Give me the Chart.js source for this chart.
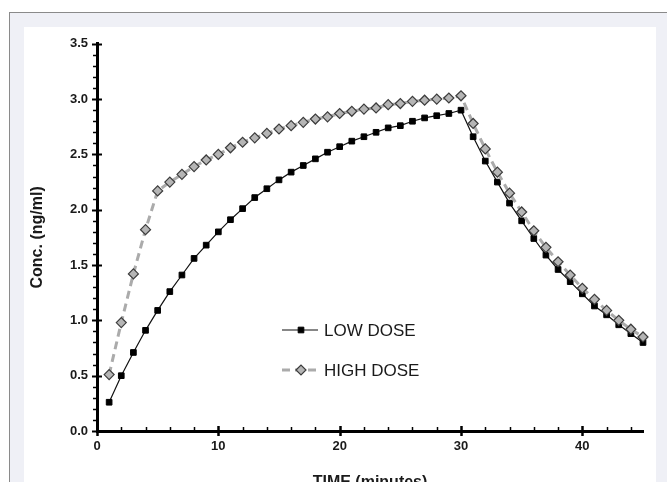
<!DOCTYPE html>
<html>
<head>
<meta charset="utf-8">
<title>Concentration vs time</title>
<script src="https://cdn.jsdelivr.net/npm/chart.js@4/dist/chart.umd.min.js"></script>
<style>
  html, body { margin: 0; padding: 0; background: #fff; overflow: hidden; }
  #frame {
    position: absolute; left: 9px; top: 12px; width: 700px; height: 500px;
    background: #eff0f6; border-top: 1px solid #8a8a8a; border-left: 1px solid #8a8a8a;
  }
  #panel {
    position: absolute; left: 24px; top: 27px; width: 632px; height: 470px;
    background: #fff;
  }
  #chart { display: block; }
</style>
</head>
<body>
<div id="frame"></div>
<div id="panel"><canvas id="chart" width="632" height="465"></canvas></div>
<script>
// sampling times (minutes)
const times = [1, 2, 3, 4, 5, 6, 7, 8, 9, 10, 11, 12, 13, 14, 15, 16, 17, 18, 19, 20, 21, 22,
  23, 24, 25, 26, 27, 28, 29, 30, 31, 32, 33, 34, 35, 36, 37, 38, 39, 40, 41, 42, 43, 44, 45];

// concentrations (ng/ml)
const lowDose = [0.26, 0.50, 0.71, 0.91, 1.09, 1.26, 1.41, 1.56, 1.68, 1.80, 1.91, 2.01, 2.11,
  2.19, 2.27, 2.34, 2.40, 2.46, 2.52, 2.57, 2.62, 2.66, 2.70, 2.74, 2.76, 2.80, 2.83, 2.85, 2.87,
  2.90, 2.66, 2.44, 2.25, 2.06, 1.90, 1.74, 1.59, 1.46, 1.35, 1.24, 1.13, 1.05, 0.96, 0.88, 0.80];

const highDose = [0.51, 0.98, 1.42, 1.82, 2.17, 2.25, 2.32, 2.39, 2.45, 2.50, 2.56, 2.61, 2.65,
  2.69, 2.73, 2.76, 2.79, 2.82, 2.84, 2.87, 2.89, 2.91, 2.92, 2.95, 2.96, 2.98, 2.99, 3.00, 3.01,
  3.03, 2.78, 2.55, 2.34, 2.15, 1.98, 1.81, 1.66, 1.53, 1.41, 1.29, 1.19, 1.09, 1.00, 0.92, 0.85];

const seriesNames = ["LOW DOSE", "HIGH DOSE"];

// axis ranges and tick steps
const xRange = [0, 45];
const yRange = [0, 3.5];
const xMajorStep = 10, xMinorStep = 2;
const yMajorStep = 0.5, yMinorStep = 0.1;

const FONT = "'Liberation Sans', Arial, sans-serif";
const INK = "#1a1a1a";

const toPoints = (ys) => ys.map((y, i) => ({ x: times[i], y: y }));

// crossing major ticks and small minor ticks on both axes
const axisTicks = {
  id: "axisTicks",
  afterDraw(chart) {
    const { ctx, scales: { x, y } } = chart;
    const ax = x.getPixelForValue(xRange[0]);
    const ay = y.getPixelForValue(yRange[0]);
    ctx.save();
    ctx.strokeStyle = "#000";
    ctx.lineCap = "butt";

    for (let v = yRange[0]; v <= yRange[1] + 1e-9; v += yMinorStep) {
      const py = Math.round(y.getPixelForValue(v)) + 0.5;
      const major = Math.abs(v / yMajorStep - Math.round(v / yMajorStep)) < 1e-6;
      ctx.lineWidth = major ? 2 : 1.5;
      ctx.beginPath();
      ctx.moveTo(ax - (major ? 5 : 4), py);
      ctx.lineTo(ax + (major ? 5 : 1), py);
      ctx.stroke();
    }
    for (let v = xRange[0]; v <= xRange[1] + 1e-9; v += xMinorStep) {
      const px = Math.round(x.getPixelForValue(v)) + 0.5;
      const major = v % xMajorStep === 0;
      ctx.lineWidth = major ? 2.5 : 1.5;
      ctx.beginPath();
      ctx.moveTo(px, ay - (major ? 5 : 4));
      ctx.lineTo(px, ay + (major ? 5 : 0));
      ctx.stroke();
    }
    ctx.restore();
  }
};

// legend inside the plot, line sample with marker
const innerLegend = {
  id: "innerLegend",
  afterDraw(chart) {
    const { ctx } = chart;
    const left = 258, rows = [303, 343];
    chart.data.datasets.forEach((ds, i) => {
      const yy = rows[i];
      ctx.save();
      ctx.strokeStyle = ds.borderColor;
      ctx.lineWidth = ds.borderWidth;
      ctx.setLineDash(ds.borderDash || []);
      ctx.beginPath();
      ctx.moveTo(left, yy);
      ctx.lineTo(left + 36, yy);
      ctx.stroke();
      ctx.setLineDash([]);
      ctx.fillStyle = ds.pointBackgroundColor;
      ctx.strokeStyle = ds.pointBorderColor;
      ctx.lineWidth = ds.pointBorderWidth;
      Chart.helpers.drawPoint(ctx, {
        pointStyle: ds.pointStyle,
        radius: ds.pointRadius,
        rotation: 0,
        borderWidth: ds.pointBorderWidth
      }, left + 19, yy);
      ctx.fillStyle = INK;
      ctx.font = "17px " + FONT;
      ctx.textBaseline = "middle";
      ctx.fillText(ds.label, left + 42, yy + 1);
      ctx.restore();
    });
  }
};

const ctx = document.getElementById("chart").getContext("2d");

new Chart(ctx, {
  type: "line",
  data: {
    datasets: [
      {
        label: seriesNames[0],
        data: toPoints(lowDose),
        borderColor: "#111",
        borderWidth: 1.2,
        pointStyle: "rect",
        pointRadius: 4,
        pointBackgroundColor: "#000",
        pointBorderColor: "#000",
        pointBorderWidth: 1,
        clip: false,
        order: 1
      },
      {
        label: seriesNames[1],
        data: toPoints(highDose),
        borderColor: "#ababab",
        borderWidth: 3,
        borderDash: [8, 5],
        pointStyle: "rectRot",
        pointRadius: 5,
        pointBackgroundColor: "#b5b5b5",
        pointBorderColor: "#3c3c3c",
        pointBorderWidth: 1.2,
        clip: false,
        order: 0
      }
    ]
  },
  options: {
    responsive: false,
    animation: false,
    devicePixelRatio: 1,
    layout: { padding: { top: 11, right: 13, left: 0, bottom: 0 } },
    plugins: {
      legend: { display: false },
      tooltip: { enabled: false }
    },
    scales: {
      x: {
        type: "linear",
        min: xRange[0],
        max: xRange[1],
        afterFit: (scale) => { scale.height = 61; },
        afterBuildTicks: (scale) => {
          scale.ticks = scale.ticks.filter(t => t.value % xMajorStep === 0);
        },
        ticks: {
          stepSize: xMajorStep,
          padding: 8,
          color: INK,
          font: { family: FONT, size: 13, weight: "bold" }
        },
        grid: { display: false, drawTicks: false },
        border: { display: true, color: "#000", width: 3 },
        title: {
          display: true,
          text: "TIME (minutes)",
          color: INK,
          padding: { top: 0, bottom: 0 },
          font: { family: FONT, size: 16, weight: "bold" }
        }
      },
      y: {
        min: yRange[0],
        max: yRange[1],
        afterFit: (scale) => { scale.width = 73; },
        ticks: {
          stepSize: yMajorStep,
          padding: 9,
          color: INK,
          font: { family: FONT, size: 13, weight: "bold" },
          callback: (v) => Number(v).toFixed(1)
        },
        grid: { display: false, drawTicks: false },
        border: { display: true, color: "#000", width: 3 },
        title: {
          display: true,
          text: "Conc. (ng/ml)",
          color: INK,
          padding: { top: 4, bottom: 0 },
          font: { family: FONT, size: 16, weight: "bold" }
        }
      }
    }
  },
  plugins: [axisTicks, innerLegend]
});
</script>
</body>
</html>
